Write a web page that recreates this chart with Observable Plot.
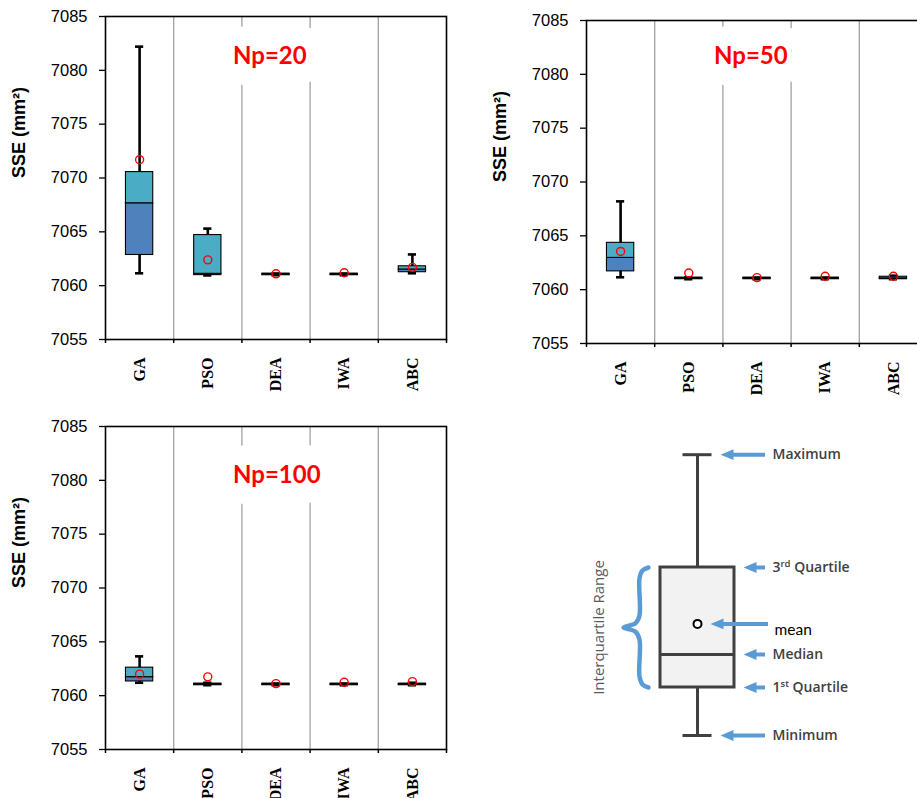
<!DOCTYPE html>
<html><head><meta charset="utf-8">
<script src="https://cdn.jsdelivr.net/npm/d3@7"></script>
<script src="https://cdn.jsdelivr.net/npm/@observablehq/plot@0.6"></script>
<style>
html,body{margin:0;padding:0;background:#fff;}
body{width:917px;height:798px;overflow:hidden;position:relative;}
.panel{position:absolute;overflow:hidden;}
.panel svg{display:block;max-width:none;}
</style></head><body>
<div id="p1" class="panel" style="left:0;top:0;width:460px;height:400px"></div>
<div id="p2" class="panel" style="left:481px;top:4px;width:436px;height:400px"></div>
<div id="p3" class="panel" style="left:0;top:410px;width:460px;height:388px"></div>
<div id="lg" class="panel" style="left:560px;top:430px;width:357px;height:330px"></div>
<script>
// ---------- data ----------
const algorithms = ["GA", "PSO", "DEA", "IWA", "ABC"];
const yTicks = [7055, 7060, 7065, 7070, 7075, 7080, 7085];
const yTitle = "SSE (mm²)";

// Np = 20
const np20Min    = [7061.15, 7060.95, 7060.97, 7060.97, 7061.15];
const np20Q1     = [7062.85, 7060.98, 7060.97, 7060.97, 7061.25];
const np20Median = [7067.65, 7061.10, 7061.02, 7061.02, 7061.50];
const np20Q3     = [7070.55, 7064.70, 7061.12, 7061.12, 7061.80];
const np20Max    = [7082.20, 7065.30, 7061.12, 7061.12, 7062.90];
const np20Mean   = [7071.70, 7062.40, 7061.10, 7061.20, 7061.70];

// Np = 50
const np50Min    = [7061.15, 7060.97, 7060.97, 7060.97, 7060.97];
const np50Q1     = [7061.70, 7060.97, 7060.97, 7060.97, 7060.97];
const np50Median = [7062.95, 7061.02, 7061.02, 7061.02, 7061.05];
const np50Q3     = [7064.35, 7061.12, 7061.12, 7061.12, 7061.20];
const np50Max    = [7068.20, 7061.15, 7061.12, 7061.12, 7061.30];
const np50Mean   = [7063.55, 7061.55, 7061.12, 7061.25, 7061.25];

// Np = 100
const np100Min    = [7061.20, 7060.97, 7060.97, 7060.97, 7060.97];
const np100Q1     = [7061.32, 7060.97, 7060.97, 7060.97, 7060.97];
const np100Median = [7061.72, 7061.02, 7061.02, 7061.02, 7061.02];
const np100Q3     = [7062.60, 7061.12, 7061.12, 7061.12, 7061.12];
const np100Max    = [7063.65, 7061.20, 7061.12, 7061.12, 7061.20];
const np100Mean   = [7062.00, 7061.75, 7061.12, 7061.25, 7061.30];

// legend schematic (arbitrary units)
const legendStats = {min: 0, q1: 4, median: 6.75, mean: 9.3, q3: 14, max: 23.4};
const legendLabels = ["Maximum", "3rd Quartile", "mean", "Median", "1st Quartile", "Minimum"];
const legendKeys   = ["max", "q3", "mean", "median", "q1", "min"];
const iqrLabel = "Interquartile Range";

// ---------- panels ----------
const COL_UPPER = "#4bacc6", COL_LOWER = "#4f81bd";

function boxPanel(stats, label, labelBaseline) {
  const W = 460, H = 400, ml = 105, mr = 14, mt = 16, mb = 61;
  const rows = algorithms.map((a, i) => ({
    alg: a, c: i + 0.5,
    min: stats.min[i], q1: stats.q1[i], median: stats.median[i],
    q3: stats.q3[i], max: stats.max[i], mean: stats.mean[i]
  }));
  const half = 0.2, cap = 0.06;
  return Plot.plot({
    width: W, height: H, marginLeft: ml, marginRight: mr, marginTop: mt, marginBottom: mb,
    style: {fontFamily: "'Liberation Sans', Arial, sans-serif", fontSize: "16px", color: "#000", background: "#fff", overflow: "visible", maxWidth: "none"},
    x: {domain: [0, algorithms.length], axis: null},
    y: {domain: [yTicks[0], yTicks[yTicks.length - 1]], axis: null},
    marks: [
      Plot.ruleX(d3.range(1, algorithms.length), {stroke: "#a0a0a0", strokeWidth: 1.3}),
      Plot.text([label], {frameAnchor: "top-left", dx: 127.5, dy: labelBaseline - mt, lineAnchor: "bottom",
        textAnchor: "start", fill: "white", stroke: "white", strokeWidth: 40, strokeLinejoin: "round",
        fontFamily: "Lato, 'Open Sans', sans-serif", fontWeight: "bold", fontSize: 24}),
      Plot.text([label], {frameAnchor: "top-left", dx: 127.5, dy: labelBaseline - mt, lineAnchor: "bottom",
        textAnchor: "start", fill: "#ff0000",
        fontFamily: "Lato, 'Open Sans', sans-serif", fontWeight: "bold", fontSize: 24}),
      Plot.ruleX(rows, {x: "c", y1: "min", y2: "max", stroke: "#000", strokeWidth: 2.6}),
      Plot.ruleY(rows, {y: "max", x1: d => d.c - cap, x2: d => d.c + cap, stroke: "#000", strokeWidth: 2.6}),
      Plot.ruleY(rows, {y: "min", x1: d => d.c - cap, x2: d => d.c + cap, stroke: "#000", strokeWidth: 2.6}),
      Plot.rectY(rows, {x1: d => d.c - half, x2: d => d.c + half, y1: "q1", y2: "median", fill: COL_LOWER, stroke: "#000", strokeWidth: 1.1}),
      Plot.rectY(rows, {x1: d => d.c - half, x2: d => d.c + half, y1: "median", y2: "q3", fill: COL_UPPER, stroke: "#000", strokeWidth: 1.1}),
      Plot.dot(rows, {x: "c", y: "mean", r: 4, stroke: "#ff0000", strokeWidth: 1.4, fill: "none"}),
      Plot.frame({stroke: "#000", strokeWidth: 1.6}),
      Plot.axisY({ticks: yTicks, tickSize: 6, tickPadding: 12, tickFormat: d => String(d), label: null,
        stroke: "#000", strokeWidth: 1.3, fontSize: 16.5, fill: "#000"}),
      Plot.axisX({ticks: d3.range(0, algorithms.length + 1), tickSize: 4, tickFormat: () => "", label: null,
        stroke: "#000", strokeWidth: 1.5}),
      Plot.axisX({ticks: rows.map(d => d.c), tickSize: 0, tickPadding: 18, tickRotate: -90, label: null,
        tickFormat: d => algorithms[Math.floor(d)],
        fontFamily: "'Liberation Serif', 'Times New Roman', serif", fontWeight: "bold", fontSize: 16, fill: "#000"}),
      Plot.text([yTitle], {frameAnchor: "left", dx: -86.5, rotate: -90, fontWeight: "bold", fontSize: 18,
        fontFamily: "'Liberation Sans', Arial, sans-serif", fill: "#000"})
    ]
  });
}

document.getElementById("p1").append(boxPanel(
  {min: np20Min, q1: np20Q1, median: np20Median, q3: np20Q3, max: np20Max, mean: np20Mean}, "Np=20", 63.3));
document.getElementById("p2").append(boxPanel(
  {min: np50Min, q1: np50Q1, median: np50Median, q3: np50Q3, max: np50Max, mean: np50Mean}, "Np=50", 59.3));
document.getElementById("p3").append(boxPanel(
  {min: np100Min, q1: np100Q1, median: np100Median, q3: np100Q3, max: np100Max, mean: np100Mean}, "Np=100", 72));

// ---------- legend diagram ----------
(function () {
  const s = legendStats;
  const boxHalf = 37, capHalf = 14.5;
  const tipX = {max: 23, q3: 46, mean: 13, median: 46, q1: 46, min: 23};
  const tailX = {max: 68, q3: 68, mean: 71, median: 68, q1: 68, min: 68};
  const arrows = legendKeys.map((k, i) => ({key: k, label: legendLabels[i], y: s[k], tip: tipX[k], tail: tailX[k]}));
  const headLen = 13, headHalf = 0.45;
  const heads = arrows.flatMap(a => [
    {id: a.key, x: a.tip, y: a.y},
    {id: a.key, x: a.tip + headLen, y: a.y + headHalf},
    {id: a.key, x: a.tip + headLen, y: a.y - headHalf}
  ]);
  const mid = (s.q1 + s.q3) / 2;
  const brace = [
    [-49, s.q3], [-55, s.q3 - 0.25], [-58, s.q3 - 0.9], [-58, mid + 1.0], [-62, mid + 0.35], [-74, mid],
    [-62, mid - 0.35], [-58, mid - 1.0], [-58, s.q1 + 0.9], [-55, s.q1 + 0.25], [-49, s.q1]
  ].map(([x, y]) => ({x, y}));
  const gray = "#404040", blue = "#5b9bd5";
  const textRows = arrows.filter(a => a.key !== "mean");
  const svg = Plot.plot({
    width: 357, height: 330, marginLeft: 0, marginRight: 0, marginTop: 5, marginBottom: 1,
    style: {background: "#fff", overflow: "visible", maxWidth: "none"},
    x: {domain: [-137, 220], axis: null},
    y: {domain: [-2, 25], axis: null},
    marks: [
      Plot.ruleX([s], {x: () => 0, y1: "q3", y2: "max", stroke: gray, strokeWidth: 3}),
      Plot.ruleX([s], {x: () => 0, y1: "min", y2: "q1", stroke: gray, strokeWidth: 3}),
      Plot.ruleY([s], {y: "max", x1: -capHalf, x2: capHalf, stroke: gray, strokeWidth: 3}),
      Plot.ruleY([s], {y: "min", x1: -capHalf, x2: capHalf, stroke: gray, strokeWidth: 3}),
      Plot.rect([s], {x1: -boxHalf, x2: boxHalf, y1: "q1", y2: "q3", fill: "#f2f2f2", stroke: gray, strokeWidth: 3}),
      Plot.ruleY([s], {y: "median", x1: -boxHalf, x2: boxHalf, stroke: gray, strokeWidth: 3}),
      Plot.dot([s], {x: () => 0, y: "mean", r: 4, stroke: "#000", strokeWidth: 2, fill: "#fff"}),
      Plot.ruleY(arrows, {y: "y", x1: d => d.tip + headLen - 1, x2: "tail", stroke: blue, strokeWidth: 4}),
      Plot.line(heads, {x: "x", y: "y", z: "id", fill: blue, stroke: "none"}),
      Plot.line(brace, {x: "x", y: "y", curve: "catmull-rom", stroke: blue, strokeWidth: 4.5, strokeLinecap: "round"}),
      Plot.text(textRows, {x: d => d.tail + 7, y: "y", text: "label", textAnchor: "start", fill: gray,
        fontFamily: "'Open Sans', sans-serif", fontWeight: 600, fontSize: 14}),
      Plot.text(arrows.filter(a => a.key === "mean"), {x: d => d.tail + 6, y: "y", dy: 6, text: "label", textAnchor: "start",
        fill: "#000", fontFamily: "Lato, 'Open Sans', sans-serif", fontSize: 15.5}),
      Plot.text([iqrLabel], {x: () => -98, y: () => mid, rotate: -90, fill: "#595959",
        fontFamily: "'Open Sans', sans-serif", fontSize: 15})
    ]
  });
  d3.select(svg).selectAll("text").each(function () {
    const t = this.textContent;
    const m = t.match(/^(\d)(st|rd) (.*)$/);
    if (m) {
      const sel = d3.select(this);
      sel.text("");
      sel.append("tspan").text(m[1]);
      sel.append("tspan").attr("dy", "-5").attr("font-size", "9.5").text(m[2]);
      sel.append("tspan").attr("dy", "5").text(" " + m[3]);
    }
  });
  document.getElementById("lg").append(svg);
})();
</script>
</body></html>
